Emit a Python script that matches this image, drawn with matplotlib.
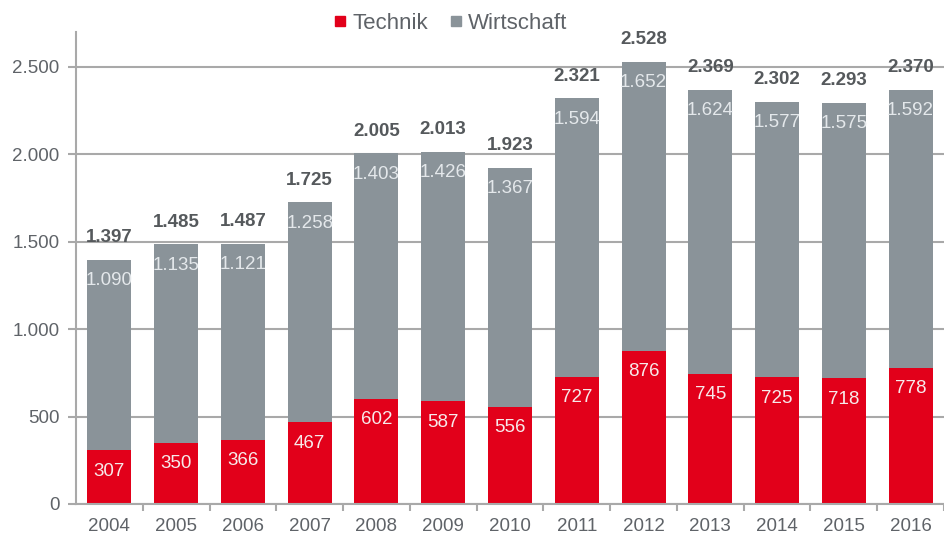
import matplotlib.pyplot as plt
from matplotlib.lines import Line2D
from matplotlib.ticker import FuncFormatter

years = ["2004", "2005", "2006", "2007", "2008", "2009", "2010",
         "2011", "2012", "2013", "2014", "2015", "2016"]
technik = [307, 350, 366, 467, 602, 587, 556, 727, 876, 745, 725, 718, 778]
wirtschaft = [1090, 1135, 1121, 1258, 1403, 1426, 1367, 1594, 1652, 1624, 1577, 1575, 1592]
totals = [1397, 1485, 1487, 1725, 2005, 2013, 1923, 2321, 2528, 2369, 2302, 2293, 2370]

RED = "#e2001a"
GRAY = "#8a9399"
TEXT = "#5f6368"


def de(v):
    return f"{v:,.0f}".replace(",", ".")


plt.rcParams["font.family"] = ["Liberation Sans", "DejaVu Sans"]
plt.rcParams["font.size"] = 13.5

fig = plt.figure(figsize=(9.44, 5.38), dpi=100)
ax = fig.add_axes([76 / 944, 34 / 538, 1 - 76 / 944, 472 / 538])

x = list(range(len(years)))
ax.bar(x, technik, width=0.66, color=RED, zorder=2)
ax.bar(x, wirtschaft, width=0.66, bottom=technik, color=GRAY, zorder=2)

for i in x:
    ax.annotate(de(technik[i]), (i, technik[i]), xytext=(0, -15), textcoords="offset points",
                ha="center", va="center", color="#f7eaea", fontsize=13.5, zorder=3)
    ax.annotate(de(wirtschaft[i]), (i, totals[i]), xytext=(0, -15), textcoords="offset points",
                ha="center", va="center", color="#e4e8eb", fontsize=13.5, zorder=3)
    ax.annotate(de(totals[i]), (i, totals[i]), xytext=(0, 16), textcoords="offset points",
                ha="center", va="center", color="#55595c", fontsize=13.5,
                fontweight="bold", zorder=3)

ax.set_xlim(-0.5, 12.42)
ax.set_ylim(0, 2700)
ax.set_yticks([0, 500, 1000, 1500, 2000, 2500])
ax.yaxis.set_major_formatter(FuncFormatter(lambda v, p: de(v)))
ax.set_xticks(x)
ax.set_xticklabels(years)
ax.set_xticks([i + 0.5 for i in x], minor=True)

ax.grid(axis="y", color="#a9a9a9", linewidth=1.5, zorder=1)
for s in ["top", "right"]:
    ax.spines[s].set_visible(False)
for s in ["left", "bottom"]:
    ax.spines[s].set_color("#a9a9a9")
    ax.spines[s].set_linewidth(1.5)

ax.tick_params(axis="y", length=6, width=1.5, color="#a9a9a9", labelcolor=TEXT, pad=6)
ax.tick_params(axis="x", which="major", length=0, labelcolor=TEXT, pad=10)
ax.tick_params(axis="x", which="minor", length=5, width=1.5, color="#a9a9a9")

handles = [Line2D([], [], marker="s", linestyle="", color=RED, markersize=7.5),
           Line2D([], [], marker="s", linestyle="", color=GRAY, markersize=7.5)]
fig.legend(handles, ["Technik", "Wirtschaft"], loc="center", bbox_to_anchor=(0.478, 0.957),
           ncol=2, frameon=False, handlelength=0.5, handletextpad=0.3, columnspacing=1.0,
           labelcolor=TEXT, fontsize=16)

fig.savefig("out.png", dpi=100)
